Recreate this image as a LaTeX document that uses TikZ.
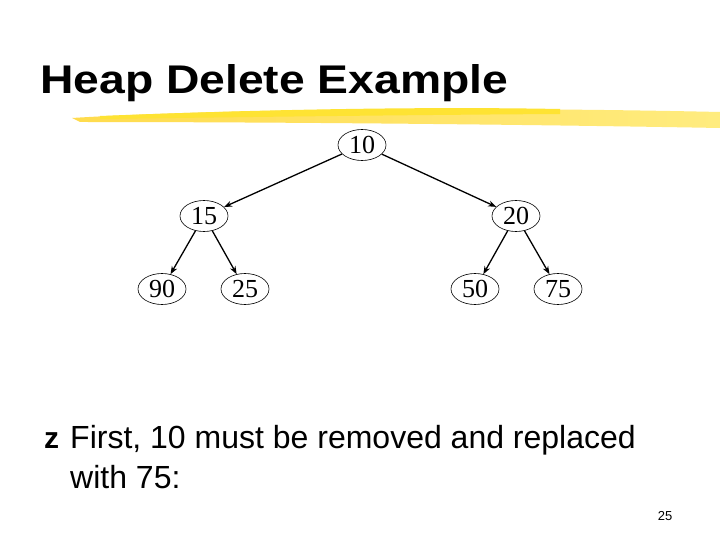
\documentclass[tikz,border=0pt]{standalone}
\usepackage{fontspec}
\setmainfont{Liberation Sans}
\newfontfamily\serifnode{Liberation Serif}
\usetikzlibrary{shapes.geometric,arrows.meta}
\begin{document}
\begin{tikzpicture}[x=1pt,y=-1pt,
  hn/.style={ellipse,draw,line width=0.6pt,inner sep=0pt,minimum width=48pt,minimum height=31pt,font=\serifnode\fontsize{26}{26}\selectfont},
  ed/.style={-{Stealth[length=8pt,width=6pt]},line width=1.3pt},
  body/.style={anchor=base west,inner sep=0pt,font=\fontsize{32}{40}\selectfont}]
\useasboundingbox (0,0) rectangle (720,540);
\fill[white] (0,0) rectangle (720,540);
% brush stroke
\shade[left color=yellow!60!orange!70, right color=yellow!70!orange!50]
  (72,118) .. controls (200,110) and (450,106) .. (720,112) -- (720,128)
  .. controls (500,124) and (250,122) .. (80,122) -- cycle;
\fill[yellow!80!orange!80] (100,116) .. controls (300,108) and (450,107) .. (560,109) -- (560,114) .. controls (400,115) and (250,117) .. (100,119) -- cycle;
\node[anchor=base west,inner sep=0pt] (title) at (40,94) {\resizebox{468pt}{29pt}{\bfseries Heap Delete Example}};
\node[hn] (n10) at (362,145) {10};
\node[hn] (n15) at (204,216) {15};
\node[hn] (n20) at (516,216) {20};
\node[hn] (n90) at (162,289) {90};
\node[hn] (n25) at (245,289) {25};
\node[hn] (n50) at (475,289) {50};
\node[hn] (n75) at (558,289) {75};
\draw[ed] (n10) -- (n15);
\draw[ed] (n10) -- (n20);
\draw[ed] (n15) -- (n90);
\draw[ed] (n15) -- (n25);
\draw[ed] (n20) -- (n50);
\draw[ed] (n20) -- (n75);
\node[body,font=\bfseries\fontsize{30}{40}\selectfont] (b) at (44,448) {z};
\node[body] (l1) at (70,448) {First, 10 must be removed and replaced};
\node[body] (l2) at (70,488) {with 75:};
\node[anchor=base,inner sep=0pt,font=\fontsize{13}{13}\selectfont] (pg) at (665,520) {25};
\end{tikzpicture}
\end{document}
